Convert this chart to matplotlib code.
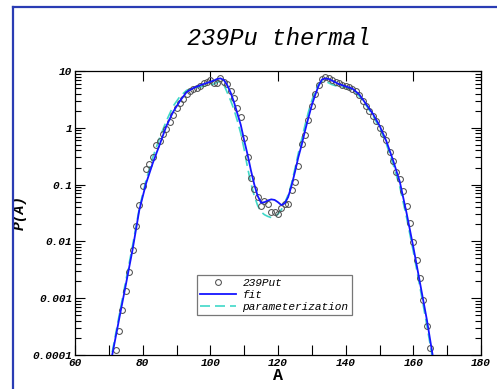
import numpy as np
import matplotlib
matplotlib.use("Agg")
import matplotlib.pyplot as plt
from matplotlib.lines import Line2D
from matplotlib.ticker import MultipleLocator, LogLocator, NullFormatter, FixedLocator

# ---- data (log10 of yield) ----
data_A = list(range(72, 166))
data_logP = [
    -3.91, -3.58, -3.21, -2.87, -2.54, -2.15, -1.73, -1.36, -1.02, -0.73,   # 72-81
    -0.64, -0.52, -0.30, -0.23, -0.11, -0.02, 0.10, 0.22, 0.35, 0.44,       # 82-91
    0.51, 0.60, 0.65, 0.68, 0.70, 0.74, 0.78, 0.81, 0.85, 0.79,             # 92-101
    0.79, 0.87, 0.80, 0.77, 0.65, 0.52, 0.35, 0.19, -0.18, -0.51,           # 102-111
    -0.88, -1.08, -1.22, -1.37, -1.28, -1.34, -1.49, -1.49, -1.51, -1.42,   # 112-121
    -1.34, -1.35, -1.10, -0.95, -0.68, -0.29, -0.13, 0.14, 0.38, 0.59,      # 122-131
    0.75, 0.86, 0.89, 0.88, 0.84, 0.81, 0.78, 0.75, 0.74, 0.72,             # 132-141
    0.69, 0.65, 0.58, 0.47, 0.39, 0.30, 0.21, 0.12, -0.01, -0.11,           # 142-151
    -0.21, -0.43, -0.58, -0.77, -0.90, -1.12, -1.38, -1.68, -2.01, -2.32,   # 152-161
    -2.65, -3.04, -3.49, -3.88,                                             # 162-165
]

fit_A = [71, 73, 75, 77, 79, 81, 83, 85, 87, 89, 91, 93, 95, 97, 99, 101, 102, 103,
         104, 105, 106, 107, 108, 109, 110, 111, 112, 113, 114, 115, 116, 117, 118,
         119, 120, 121, 122, 123, 124, 125, 126, 127, 128, 129, 130, 131, 132, 133,
         134, 135, 136, 137, 138, 140, 142, 144, 146, 148, 150, 152, 154, 156, 158,
         160, 162, 164, 165.7]
fit_logP = [-4.00, -3.38, -2.77, -2.15, -1.45, -0.98, -0.62, -0.30, 0.03, 0.28, 0.47,
            0.63, 0.70, 0.75, 0.79, 0.83, 0.86, 0.87, 0.84, 0.75, 0.62, 0.45, 0.25,
            0.05, -0.22, -0.47, -0.75, -1.00, -1.20, -1.32, -1.31, -1.28, -1.26,
            -1.27, -1.31, -1.36, -1.33, -1.22, -1.02, -0.78, -0.52, -0.30, -0.05,
            0.18, 0.40, 0.58, 0.74, 0.85, 0.87, 0.86, 0.83, 0.80, 0.77, 0.73, 0.69,
            0.59, 0.42, 0.25, 0.04, -0.23, -0.57, -0.95, -1.50, -2.10, -2.74, -3.38,
            -4.00]

par_A = [71, 73, 75, 77, 79, 81, 83, 85, 87, 89, 91, 93, 95, 97, 99, 101, 102, 103,
         104, 105, 106, 107, 108, 109, 110, 111, 112, 113, 114, 115, 116, 117, 118,
         119, 120, 121, 122, 123, 124, 125, 126, 127, 128, 129, 130, 131, 132, 133,
         134, 135, 136, 137, 138, 140, 142, 144, 146, 148, 150, 152, 154, 156, 158,
         160, 162, 164, 165.5]
par_logP = [-3.95, -3.32, -2.70, -2.08, -1.42, -0.92, -0.52, -0.18, 0.12, 0.38, 0.55,
            0.66, 0.70, 0.72, 0.74, 0.77, 0.80, 0.82, 0.76, 0.62, 0.48, 0.32, 0.12,
            -0.10, -0.38, -0.70, -0.98, -1.20, -1.37, -1.48, -1.53, -1.56, -1.58,
            -1.57, -1.52, -1.44, -1.32, -1.18, -0.98, -0.72, -0.45, -0.20, 0.05,
            0.28, 0.48, 0.65, 0.77, 0.82, 0.82, 0.79, 0.76, 0.74, 0.73, 0.71, 0.66,
            0.56, 0.40, 0.22, 0.00, -0.28, -0.64, -1.04, -1.58, -2.18, -2.82, -3.48,
            -4.00]

legend_labels = ["239Put", "fit", "parameterization"]
x_ticks = [60, 80, 100, 120, 140, 160, 180]
y_ticks = [1e-4, 1e-3, 1e-2, 1e-1, 1, 10]
y_ticklabels = ["0.0001", "0.001", "0.01", "0.1", "1", "10"]

mono = "Liberation Mono"

fig = plt.figure(figsize=(4.97, 3.89), dpi=100)
ax = fig.add_axes([75/497, 1-355/389, 406/497, 284/389])

ax.plot(data_A, 10**np.array(data_logP), "o", mfc="none", mec="#505050",
        ms=4.2, mew=0.75, label=legend_labels[0], zorder=3)
ax.plot(fit_A, 10**np.array(fit_logP), "-", color="#1515ff", lw=1.3,
        label=legend_labels[1], zorder=4)
ax.plot(par_A, 10**np.array(par_logP), "--", color="#40d8c8", lw=1.2,
        dashes=(6, 3), label=legend_labels[2], zorder=2)

ax.set_yscale("log")
ax.set_xlim(60, 180)
ax.set_ylim(1e-4, 10)

# ticks
ax.xaxis.set_major_locator(FixedLocator(x_ticks))
ax.xaxis.set_minor_locator(MultipleLocator(10))
ax.set_xticklabels([str(v) for v in x_ticks])
ax.yaxis.set_major_locator(FixedLocator(y_ticks))
ax.set_yticklabels(y_ticklabels)
ax.yaxis.set_minor_locator(LogLocator(base=10, subs=np.arange(2, 10)))
ax.yaxis.set_minor_formatter(NullFormatter())
ax.tick_params(which="both", direction="in", top=True, right=True, width=0.8)
ax.tick_params(which="major", length=7, pad=2)
ax.tick_params(which="minor", length=4)
ax.tick_params(axis="x", which="minor", length=7, top=False)
for lab in ax.get_xticklabels() + ax.get_yticklabels():
    lab.set_fontfamily(mono)
    lab.set_fontweight("bold")
    lab.set_fontstyle("italic")
    lab.set_fontsize(8)
for sp in ax.spines.values():
    sp.set_linewidth(0.9)

ax.set_xlabel("A", fontfamily=mono, fontweight="bold", fontsize=12, labelpad=0)
ax.set_ylabel("P(A)", fontfamily=mono, fontweight="bold", fontstyle="italic",
              fontsize=10.5, labelpad=4)

fig.text(279/497, 1-45/389, "239Pu thermal", ha="center", va="baseline",
         fontfamily=mono, fontstyle="italic", fontsize=17)

leg = ax.legend(loc="lower left", bbox_to_anchor=(0.300, 0.141), borderaxespad=0,
                prop={"family": mono, "style": "italic", "size": 8},
                fancybox=False, edgecolor="#777777", framealpha=1,
                handlelength=3.2, labelspacing=0.15, borderpad=0.3,
                handletextpad=0.6)
leg.get_frame().set_linewidth(0.9)

# window frame (top and left blue border)
fig.add_artist(Line2D([13/497, 13/497], [0, 1-7/389], color="#2a3cb4", lw=1.6))
fig.add_artist(Line2D([13/497, 1], [1-7/389, 1-7/389], color="#2a3cb4", lw=1.6))

fig.savefig("out.png", dpi=100)
